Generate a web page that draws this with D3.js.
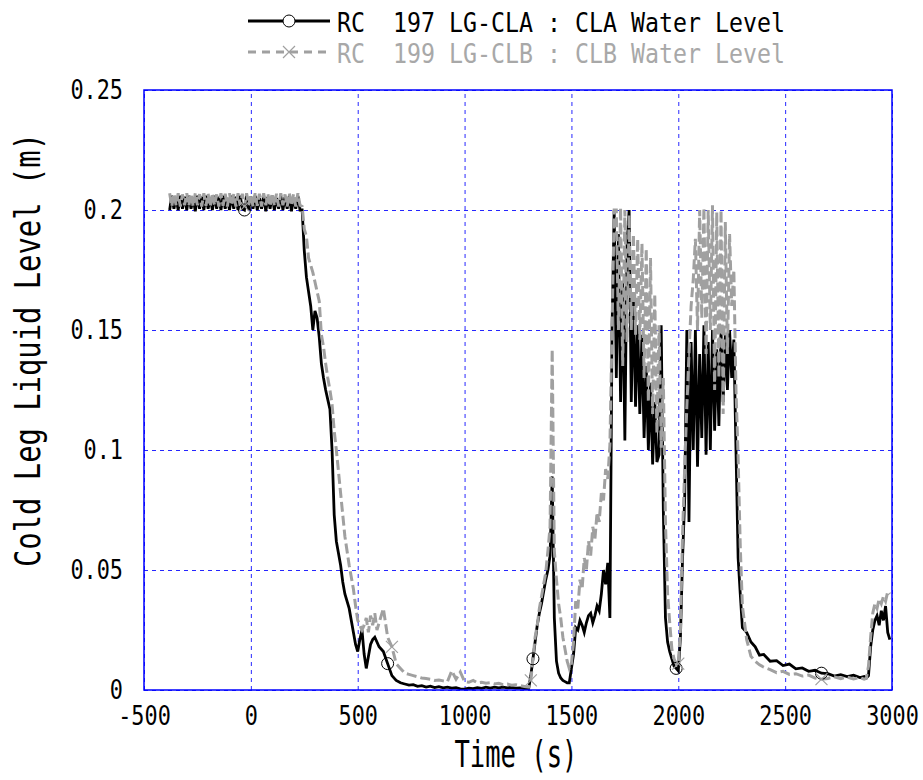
<!DOCTYPE html>
<html>
<head>
<meta charset="utf-8">
<script src="https://cdn.jsdelivr.net/npm/d3@7"></script>
<style>
  body { margin: 0; background: #fff; }
  svg { display: block; }
</style>
</head>
<body>
<svg id="drawing_region"></svg>
<script>
// time (s)
const time = [
  -380,-370,-360,-350,-340,-330,-320,-310,-300,-290,-280,-270,-260,-250,-240,-230,-220,-210,-200,-190,
  -180,-170,-160,-150,-140,-130,-120,-110,-100,-90,-80,-70,-60,-50,-40,-30,-20,-10,0,10,
  20,30,40,50,60,70,80,90,100,110,120,130,140,150,160,170,180,190,200,210,220,230,240,
  250,260,270,280,290,300,310,320,330,340,350,360,370,380,390,400,410,420,430,440,
  450,460,470,480,490,500,510,520,530,540,550,560,570,580,590,600,
  620,640,660,680,700,720,740,760,780,800,820,840,860,880,900,920,940,960,980,1000,
  1020,1040,1060,1080,1100,1120,1140,1160,1180,1200,1220,1240,1260,1280,1300,
  1310,1320,1330,1340,1350,1360,1370,1380,1390,1400,1410,1420,1430,1440,1450,1460,1470,1480,1490,1500,
  1510,1520,1530,1540,1550,1560,1570,1580,1590,1600,1610,1620,1630,1640,1650,1660,1670,1680,1690,1700,
  1710,1720,1730,1740,1750,1760,1770,1780,1790,1800,1810,1820,1830,1840,1850,1860,1870,1880,1890,1900,
  1910,1920,1930,1940,1950,1960,1970,1980,1990,2000,2010,2020,2030,2040,2050,2060,2070,2080,2090,2100,
  2110,2120,2130,2140,2150,2160,2170,2180,2190,2200,2210,2220,2230,2240,2250,2260,2270,2280,2290,2300,
  2320,2340,2360,2380,2400,2430,2460,2490,2520,2550,2580,2610,2640,2670,2700,2730,2760,2790,2820,2850,
  2870,2880,2890,2900,2910,2920,2930,2940,2950,2960,2970,2980,2990
]

// RC 197 LG-CLA : CLA Water Level (m)
const cla = [
  0.2,0.206,0.2005,0.205,0.2,0.206,0.2005,0.2055,0.2,0.206,0.2005,0.205,0.1995,0.206,0.2005,0.2055,0.2,0.206,0.2005,0.205,
  0.2,0.206,0.2005,0.2055,0.2,0.206,0.2005,0.205,0.2,0.206,0.2005,0.2055,0.2,0.206,0.2005,0.2,0.206,0.2,0.2055,0.2005,
  0.206,0.2,0.205,0.2005,0.206,0.1995,0.2055,0.2005,0.206,0.2,0.205,0.2005,0.206,0.2,0.2055,0.2005,0.206,0.1995,0.205,0.2005,0.206,0.2,0.2,
  0.183,0.172,0.166,0.16,0.15,0.158,0.155,0.147,0.136,0.13,0.125,0.121,0.117,0.1,0.073,0.062,0.057,0.052,0.045,0.04,
  0.037,0.034,0.029,0.024,0.019,0.016,0.021,0.025,0.015,0.009,0.014,0.019,0.021,0.022,0.02,0.018,
  0.016,0.011,0.006,0.004,0.003,0.0025,0.002,0.0022,0.0015,0.0018,0.0012,0.0016,0.001,0.0014,0.0009,0.0012,0.0008,0.001,0.0005,0.0004,
  0.0008,0.0006,0.001,0.0007,0.0012,0.0008,0.0012,0.0009,0.0012,0.0009,0.0011,0.0008,0.0009,0.0006,0.0006,
  0.006,0.013,0.02,0.027,0.032,0.036,0.041,0.046,0.05,0.056,0.089,0.03,0.012,0.007,0.005,0.004,0.0035,0.003,0.003,0.009,
  0.015,0.026,0.025,0.029,0.027,0.024,0.028,0.031,0.032,0.028,0.031,0.035,0.033,0.04,0.05,0.044,0.053,0.03,0.15,0.2,
  0.13,0.19,0.12,0.17,0.104,0.185,0.2,0.12,0.165,0.118,0.152,0.115,0.148,0.105,0.135,0.1,0.128,0.094,0.12,0.095,
  0.098,0.152,0.075,0.03,0.02,0.016,0.013,0.01,0.009,0.008,0.022,0.055,0.08,0.15,0.07,0.145,0.1,0.15,0.093,0.14,
  0.105,0.152,0.098,0.145,0.1,0.15,0.108,0.142,0.11,0.15,0.12,0.148,0.125,0.15,0.13,0.146,0.1,0.055,0.04,0.026,
  0.024,0.02,0.018,0.0145,0.0148,0.012,0.0122,0.0102,0.0108,0.0088,0.0092,0.0078,0.0082,0.007,0.0068,0.0058,0.0064,0.0056,0.0062,0.0052,
  0.0056,0.005,0.006,0.018,0.025,0.029,0.031,0.027,0.033,0.029,0.035,0.024,0.021
]

// RC 199 LG-CLB : CLB Water Level (m)
const clb = [
  0.207,0.2015,0.2068,0.202,0.207,0.2015,0.2065,0.202,0.207,0.2018,0.2068,0.2015,0.207,0.202,0.2066,0.2015,0.207,0.2018,0.2068,0.2015,
  0.207,0.202,0.2065,0.2015,0.207,0.2018,0.2068,0.2015,0.207,0.202,0.2066,0.2015,0.207,0.2018,0.2068,0.2015,0.207,0.202,0.2065,0.2015,
  0.207,0.2018,0.2068,0.2015,0.207,0.202,0.2066,0.2015,0.207,0.2018,0.2068,0.2015,0.207,0.202,0.2065,0.2015,0.207,0.2018,0.2068,0.2015,0.207,0.202,0.2015,
  0.192,0.189,0.18,0.177,0.174,0.17,0.166,0.162,0.148,0.143,0.136,0.13,0.125,0.119,0.108,0.1,0.091,0.082,0.073,0.064,
  0.058,0.052,0.047,0.042,0.035,0.029,0.027,0.025,0.027,0.03,0.024,0.031,0.027,0.032,0.025,0.028,
  0.034,0.022,0.018,0.011,0.009,0.007,0.0065,0.006,0.0055,0.005,0.0048,0.0045,0.004,0.0042,0.0038,0.0035,0.008,0.0045,0.0075,0.0035,
  0.0032,0.004,0.003,0.0032,0.0028,0.003,0.0025,0.0028,0.0022,0.0025,0.002,0.0022,0.0018,0.0015,0.0012,
  0.004,0.013,0.022,0.027,0.034,0.039,0.044,0.049,0.058,0.068,0.142,0.058,0.046,0.036,0.03,0.022,0.017,0.012,0.009,0.011,
  0.02,0.037,0.034,0.046,0.042,0.055,0.05,0.062,0.056,0.068,0.063,0.074,0.07,0.082,0.079,0.092,0.088,0.102,0.15,0.2,
  0.2,0.15,0.201,0.135,0.2,0.145,0.198,0.15,0.19,0.148,0.188,0.146,0.186,0.13,0.184,0.12,0.18,0.115,0.165,0.107,
  0.152,0.101,0.13,0.07,0.04,0.028,0.017,0.013,0.011,0.011,0.025,0.065,0.093,0.118,0.14,0.16,0.171,0.188,0.15,0.2,
  0.155,0.201,0.14,0.2,0.15,0.202,0.125,0.199,0.13,0.2,0.115,0.195,0.14,0.19,0.16,0.175,0.125,0.097,0.06,0.035,
  0.021,0.014,0.012,0.0105,0.0095,0.0085,0.0072,0.0078,0.0065,0.0068,0.0058,0.0062,0.005,0.0045,0.0048,0.0055,0.0047,0.0054,0.0046,0.0052,
  0.0045,0.0048,0.01,0.022,0.032,0.036,0.034,0.038,0.036,0.039,0.037,0.041,0.04
]

// marker times (s)
const markTimesA = [-30, 640, 1320, 1990, 2670]
const markTimesB = [-30, 660, 1310, 2000, 2670]

const xTicks = [-500, 0, 500, 1000, 1500, 2000, 2500, 3000]
const yTicks = [0, 0.05, 0.1, 0.15, 0.2, 0.25]
const yTickLabels = ['0', '0.05', '0.1', '0.15', '0.2', '0.25']

const legendLabels = ['RC  197 LG-CLA : CLA Water Level', 'RC  199 LG-CLB : CLB Water Level']

const FONT = '"DejaVu Sans Mono", "Liberation Mono", monospace'
const GRAY = '#a0a0a0'
const BLUE = '#0000ff'

class LevelPlot {
    constructor(config) {
        this.config = config
        this.init()
    }

    init() {
        let self = this
        const c = self.config
        self.svg = d3.select(c.parent)
            .attr('width', c.width)
            .attr('height', c.height)

        self.inner_width = c.width - c.margin.left - c.margin.right
        self.inner_height = c.height - c.margin.top - c.margin.bottom

        self.xscale = d3.scaleLinear().domain([-500, 3000]).range([0, self.inner_width])
        self.yscale = d3.scaleLinear().domain([0, 0.25]).range([self.inner_height, 0])

        self.chart = self.svg.append('g')
            .attr('transform', `translate(${c.margin.left},${c.margin.top})`)

        self.chart.append('clipPath').attr('id', 'plotclip')
            .append('rect')
            .attr('width', self.inner_width)
            .attr('height', self.inner_height)
    }

    render() {
        let self = this
        const W = self.inner_width, H = self.inner_height
        const x = self.xscale, y = self.yscale

        // grid
        const xgrid = self.chart.append('g')
            .attr('transform', `translate(0,${H})`)
            .call(d3.axisBottom(x).tickValues(xTicks).tickSize(-H).tickFormat(''))
        const ygrid = self.chart.append('g')
            .call(d3.axisLeft(y).tickValues(yTicks).tickSize(-W).tickFormat(''))
        ;[xgrid, ygrid].forEach(g => {
            g.select('.domain').remove()
            g.selectAll('line')
                .attr('stroke', BLUE)
                .attr('stroke-opacity', 0.85)
                .attr('stroke-dasharray', '4,4')
        })

        // series
        const line = d3.line()
            .x(d => x(d.t))
            .y(d => y(d.v))
        const dataA = time.map((t, i) => ({t: t, v: cla[i]}))
        const dataB = time.map((t, i) => ({t: t, v: clb[i]}))

        const plot = self.chart.append('g').attr('clip-path', 'url(#plotclip)')
        plot.append('path')
            .datum(dataA)
            .attr('d', line)
            .attr('fill', 'none')
            .attr('stroke', '#000')
            .attr('stroke-width', 2.8)
        plot.append('path')
            .datum(dataB)
            .attr('d', line)
            .attr('fill', 'none')
            .attr('stroke', GRAY)
            .attr('stroke-width', 3)
            .attr('stroke-dasharray', '10,4')

        const nearest = (data, t) => data[d3.leastIndex(data, d => Math.abs(d.t - t))]

        plot.selectAll('circle.mark')
            .data(markTimesA.map(t => nearest(dataA, t)))
            .join('circle')
            .attr('class', 'mark')
            .attr('cx', d => x(d.t))
            .attr('cy', d => y(d.v))
            .attr('r', 6)
            .attr('fill', 'none')
            .attr('stroke', '#000')
            .attr('stroke-width', 1)

        const cross = 'M-6,-6L6,6M-6,6L6,-6'
        plot.selectAll('path.mark')
            .data(markTimesB.map(t => nearest(dataB, t)))
            .join('path')
            .attr('class', 'mark')
            .attr('transform', d => `translate(${x(d.t)},${y(d.v)})`)
            .attr('d', cross)
            .attr('stroke', GRAY)
            .attr('stroke-width', 1.2)

        // frame
        self.chart.append('rect')
            .attr('width', W)
            .attr('height', H)
            .attr('fill', 'none')
            .attr('stroke', BLUE)
            .attr('stroke-width', 1.5)

        // tick labels (narrow mono look: squeeze glyphs horizontally)
        const sx = 0.81
        const xaxis = self.chart.append('g')
            .attr('transform', `translate(0,${H})`)
            .call(d3.axisBottom(x).tickValues(xTicks).tickSize(0).tickPadding(16).tickFormat(d => String(d)))
        const yaxis = self.chart.append('g')
            .call(d3.axisLeft(y).tickValues(yTicks).tickSize(0).tickPadding(21)
                .tickFormat((d, i) => yTickLabels[i]))
        ;[xaxis, yaxis].forEach(g => {
            g.select('.domain').remove()
            g.selectAll('text')
                .attr('fill', '#000')
                .attr('font-family', FONT)
                .attr('font-size', 27)
                .attr('transform', `scale(${sx},1)`)
        })
        yaxis.selectAll('text').attr('x', -21 / sx)

        // axis titles
        self.svg.append('text')
            .attr('x', 516)
            .attr('y', 767)
            .attr('text-anchor', 'middle')
            .attr('font-family', FONT)
            .attr('font-size', 38)
            .attr('textLength', 123)
            .attr('lengthAdjust', 'spacingAndGlyphs')
            .text('Time (s)')

        self.svg.append('text')
            .attr('transform', 'translate(40,350) rotate(-90)')
            .attr('text-anchor', 'middle')
            .attr('font-family', FONT)
            .attr('font-size', 35)
            .attr('textLength', 434)
            .attr('lengthAdjust', 'spacingAndGlyphs')
            .text('Cold Leg Liquid Level (m)')

        // legend
        const legend = self.svg.append('g')
        const rows = [
            {label: legendLabels[0], color: '#000', dash: null, y: 21},
            {label: legendLabels[1], color: GRAY, dash: '8,6', y: 52}
        ]
        rows.forEach((r, i) => {
            legend.append('line')
                .attr('x1', 248).attr('x2', 330)
                .attr('y1', r.y).attr('y2', r.y)
                .attr('stroke', r.color)
                .attr('stroke-width', i === 0 ? 2.8 : 3)
                .attr('stroke-dasharray', r.dash)
            legend.append('text')
                .attr('x', 337)
                .attr('y', r.y + 11)
                .attr('fill', i === 0 ? '#000' : '#a8a8a8')
                .attr('font-family', FONT)
                .attr('font-size', 27)
                .attr('textLength', 448)
                .attr('lengthAdjust', 'spacingAndGlyphs')
                .style('white-space', 'pre')
                .text(r.label)
        })
        legend.append('circle')
            .attr('cx', 289).attr('cy', 21).attr('r', 6)
            .attr('fill', '#fff').attr('stroke', '#000').attr('stroke-width', 1)
        legend.append('path')
            .attr('transform', 'translate(289,52)')
            .attr('d', cross)
            .attr('stroke', GRAY)
            .attr('stroke-width', 1.2)
    }
}

const config = {
    parent: '#drawing_region',
    width: 923,
    height: 780,
    margin: {top: 90, right: 31, bottom: 90, left: 144}
}

const plot = new LevelPlot(config)
plot.render()
</script>
</body>
</html>
